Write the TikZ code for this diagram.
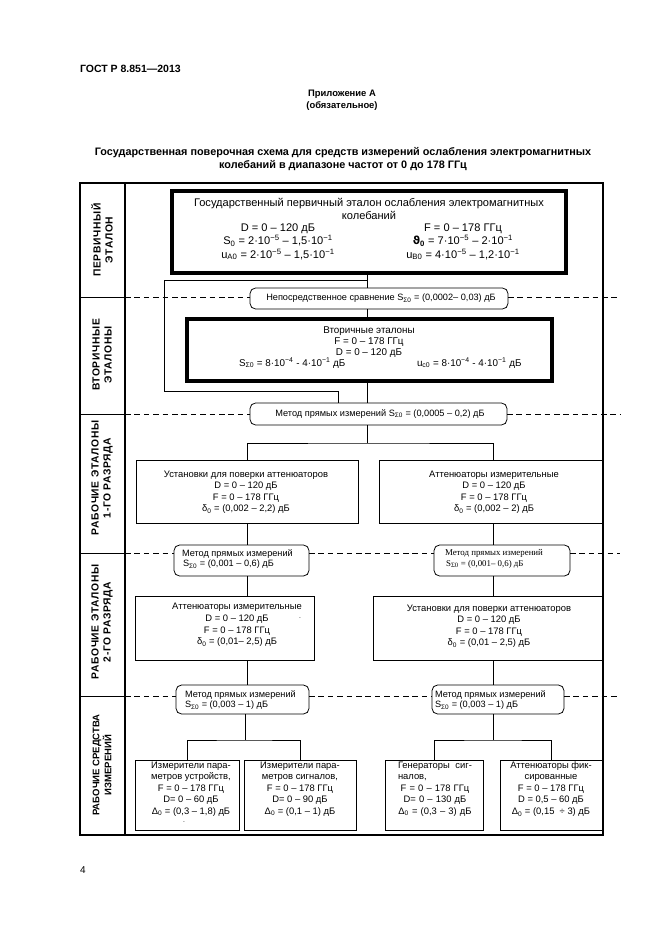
\documentclass[tikz,border=0pt]{standalone}
\usepackage{fontspec}
\setmainfont{Liberation Sans}
\newfontfamily\serifRM{Liberation Serif}
\newfontfamily\dejavu{DejaVu Sans}
\newfontfamily\labspaced[LetterSpace=6]{Liberation Sans}
\usetikzlibrary{fit}
\newcommand{\sbs}[1]{\textsubscript{#1}}
\newcommand{\sps}[1]{\textsuperscript{#1}}
\begin{document}
\begin{tikzpicture}[x=0.9038pt, y=-0.9038pt,
  every node/.style={inner sep=0pt, outer sep=0pt},
  frm/.style={line width=1.6pt},
  thickbox/.style={draw, line width=3.2pt, inner sep=0pt},
  bx/.style={draw, line width=0.7pt, inner sep=0pt},
  ov/.style={draw, rounded corners=5pt, line width=0.7pt, inner sep=0pt},
  lnk/.style={line width=0.7pt},
  dsh/.style={line width=0.6pt, dash pattern=on 5pt off 3.5pt},
  sep/.style={line width=0.6pt},
  big/.style={font=\fontsize{10}{11.8}\selectfont, align=center},
  mid/.style={font=\fontsize{8.9}{9.6}\selectfont, align=center},
  sml/.style={font=\fontsize{8.5}{10.4}\selectfont, align=center},
  meth/.style={font=\fontsize{8.3}{9.8}\selectfont, align=left},
  lab/.style={font=\labspaced\bfseries\fontsize{9.3}{10.8}\selectfont, align=center, rotate=90},
  labn/.style={font=\bfseries\fontsize{8.6}{10.8}\selectfont, align=center, rotate=90}
]
\useasboundingbox (0,0) rectangle (661,935);

% header
\node[anchor=west, font=\bfseries\fontsize{9.5}{11}\selectfont] (hdr) at (80,69) {ГОСТ Р 8.851—2013};
\node[font=\bfseries\fontsize{8.5}{10.5}\selectfont, align=center] (app) at (342,100) {Приложение А\\(обязательное)};
\node[font=\bfseries\fontsize{9.8}{12}\selectfont, align=center] (ttl) at (343,159) {Государственная поверочная схема для средств измерений ослабления электромагнитных\\колебаний в диапазоне частот от 0 до 178 ГГц};
\node[anchor=west, font=\fontsize{9}{11}\selectfont] (pg) at (80,870) {4};

% frame and left column
\draw[frm] (80,183) rectangle (603,835);
\draw[frm] (125,183) -- (125,835);
\foreach \yy in {297,414,553,696} \draw[sep] (80,\yy) -- (125,\yy);

\node[lab] (lab1) at (102,240) {ПЕРВИЧНЫЙ\\ЭТАЛОН};
\node[lab] (lab2) at (102,355) {ВТОРИЧНЫЕ\\ЭТАЛОНЫ};
\node[lab] (lab3) at (102,478) {РАБОЧИЕ ЭТАЛОНЫ\\1-ГО РАЗРЯДА};
\node[lab] (lab4) at (102,622) {РАБОЧИЕ ЭТАЛОНЫ\\2-ГО РАЗРЯДА};
\node[labn] (lab5) at (102,765) {РАБОЧИЕ СРЕДСТВА\\ИЗМЕРЕНИЙ};

% primary standard
\node[thickbox, fit={(172,191) (566,273)}] (prim) {};
\node[big] (primT) at (369,209) {Государственный первичный эталон ослабления электромагнитных\\колебаний};
\node[big] (primL) at (278,242) {D = 0 – 120 дБ\\S\sbs{0} = 2·10\sps{−5} – 1,5·10\sps{−1}\\u\sbs{A0} = 2·10\sps{−5} – 1,5·10\sps{−1}};
\node[big] (primR) at (463,242) {F = 0 – 178 ГГц\\{\dejavu\bfseries ϑ}\sbs{\bfseries 0} = 7·10\sps{−5} – 2·10\sps{−1}\\u\sbs{B0} = 4·10\sps{−5} – 1,2·10\sps{−1}};

% comparison
\node[ov, fit={(250,288) (508,309)}] (cmp) {};
\node[meth] (cmpT) at (381,298.5) {Непосредственное сравнение S\sbs{Σ0} = (0,0002– 0,03) дБ};

% secondary
\node[thickbox, fit={(187,319) (552,381)}] (sec) {};
\node[mid] (secT) at (369,342) {Вторичные эталоны\\F = 0 – 178 ГГц\\D = 0 – 120 дБ};
\node[mid, anchor=west] (secL) at (239,363) {S\sbs{Σ0} = 8·10\sps{−4} - 4·10\sps{−1} дБ};
\node[mid, anchor=west] (secR) at (417,363) {u\sbs{c0} = 8·10\sps{−4} - 4·10\sps{−1} дБ};

% method 1
\node[ov, fit={(250,403) (507,425)}] (m1) {};
\node[meth] (m1T) at (380,414) {Метод прямых измерений S\sbs{Σ0} = (0,0005 – 0,2) дБ};

% level 1 boxes
\node[bx, fit={(136,460) (358,523)}] (L1a) {};
\node[sml] (L1aT) at (246,492) {Установки для поверки аттенюаторов\\D = 0 – 120 дБ\\F = 0 – 178 ГГц\\δ\sbs{0} = (0,002 – 2,2) дБ};
\node[bx, fit={(379,460) (603,523)}] (L1b) {};
\node[sml] (L1bT) at (494,492) {Аттенюаторы измерительные\\D = 0 – 120 дБ\\F = 0 – 178 ГГц\\δ\sbs{0} = (0,002 – 2) дБ};

% level 2 methods
\node[ov, fit={(174,545) (309,576)}] (o2a) {};
\node[meth, anchor=west] (o2aT) at (182,559) {Метод прямых измерений\\\hspace{1pt}S\sbs{Σ0} = (0,001 – 0,6) дБ};
\node[ov, fit={(434,545) (570,576)}] (o2b) {};
\node[meth, anchor=west, font=\serifRM\fontsize{8}{9.8}\selectfont] (o2bT) at (445,559) {Метод прямых измерений\\\hspace{1pt}S\sbs{Σ0} = (0,001– 0,6) дБ};

% level 2 boxes
\node[bx, fit={(135,596) (314,660)}] (L2a) {};
\node[sml] (L2aT1) at (237,607) {Аттенюаторы измерительные};
\node[sml] (L2aT) at (237,631) {D = 0 – 120 дБ\\F = 0 – 178 ГГц\\δ\sbs{0} = (0,01– 2,5) дБ};
\node[font=\fontsize{6}{7}\selectfont] (dotA) at (300,618) {.};
\node[bx, fit={(373,596) (603,660)}] (L2b) {};
\node[sml] (L2bT) at (489,626) {Установки для поверки аттенюаторов\\D = 0 – 120 дБ\\F = 0 – 178 ГГц\\δ\sbs{0} = (0,01 – 2,5) дБ};

% level 3 methods
\node[ov, fit={(176,685) (309,714)}] (o3a) {};
\node[meth, anchor=west] (o3aT) at (185,700) {Метод прямых измерений\\S\sbs{Σ0} = (0,003 – 1) дБ};
\node[ov, fit={(432,685) (564,714)}] (o3b) {};
\node[meth, anchor=west] (o3bT) at (435,700) {Метод прямых измерений\\S\sbs{Σ0} = (0,003 – 1) дБ};

% bottom boxes
\node[bx, fit={(135,760) (239,830)}] (b1) {};
\node[sml] (b1T) at (191,789) {Измерители пара-\\метров устройств,\\F = 0 – 178 ГГц\\D= 0 – 60 дБ\\Δ\sbs{0} = (0,3 – 1,8) дБ};
\node[font=\fontsize{6}{7}\selectfont] (dotB) at (184,822) {.};
\node[bx, fit={(244,760) (356,830)}] (b2) {};
\node[sml] (b2T) at (300,789) {Измерители пара-\\метров сигналов,\\F = 0 – 178 ГГц\\D= 0 – 90 дБ\\Δ\sbs{0} = (0,1 – 1) дБ};
\node[bx, fit={(385,760) (483,830)}] (b3) {};
\node[sml, text width=74*0.9038pt] (b3T) at (435,789) {\makebox[\linewidth][s]{Генераторы\hfill сиг-}\\\makebox[\linewidth][l]{налов,}\\F = 0 – 178 ГГц\\D= 0 – 130 дБ\\Δ\sbs{0} = (0,3 – 3) дБ};
\node[bx, fit={(500,760) (603,830)}] (b4) {};
\node[sml] (b4T) at (551,789) {Аттенюаторы фик-\\сированные\\F = 0 – 178 ГГц\\D = 0,5 – 60 дБ\\Δ\sbs{0} = (0,15 \ ÷ 3) дБ};

% dashed level separators
\draw[dsh] (125,297) -- (cmp.west |- 0,297);
\draw[dsh] (cmp.east |- 0,297) -- (620,297);
\draw[dsh] (125,414) -- (m1.west);
\draw[dsh] (m1.east) -- (620,414);
\draw[dsh] (125,553) -- (o2a.west |- 0,553);
\draw[dsh] (o2a.east |- 0,553) -- (o2b.west |- 0,553);
\draw[dsh] (o2b.east |- 0,553) -- (620,553);
\draw[dsh] (125,696) -- (o3a.west |- 0,696);
\draw[dsh] (o3a.east |- 0,696) -- (o3b.west |- 0,696);
\draw[dsh] (o3b.east |- 0,696) -- (620,696);

% connectors
\coordinate (ax) at (367,0);
\coordinate (bp1) at (164,280);
\coordinate (bp2) at (338,391);
\draw[lnk] (prim.south -| ax) -- (cmp.north -| ax);
\draw[lnk] (bp1 -| ax) -- (bp1) |- (bp2) -- (bp2 |- m1.north);
\draw[lnk] (cmp.south -| ax) -- (sec.north -| ax);
\draw[lnk] (sec.south -| ax) -- (m1.north -| ax);

\coordinate (sp1) at (367,443);
\coordinate (xa) at (247,0);
\coordinate (xb) at (493,0);
\draw[lnk] (m1.south -| ax) -- (sp1);
\draw[lnk] (L1a.north -| xa) |- (sp1) -| (L1b.north -| xb);
\draw[lnk] (L1a.south -| xa) -- (o2a.north -| xa);
\draw[lnk] (L1b.south -| xb) -- (o2b.north -| xb);
\draw[lnk] (o2a.south -| xa) -- (L2a.north -| xa);
\draw[lnk] (o2b.south -| xb) -- (L2b.north -| xb);
\draw[lnk] (L2a.south -| xa) -- (o3a.north -| xa);
\draw[lnk] (L2b.south -| xb) -- (o3b.north -| xb);

\coordinate (sp3) at (245,740);
\coordinate (sp4) at (493,740);
\draw[lnk] (o3a.south -| sp3) -- (sp3);
\draw[lnk] (b1.north) |- (sp3) -| (b2.north);
\draw[lnk] (o3b.south -| sp4) -- (sp4);
\draw[lnk] (b3.north) |- (sp4) -| (b4.north);
\end{tikzpicture}
\end{document}
